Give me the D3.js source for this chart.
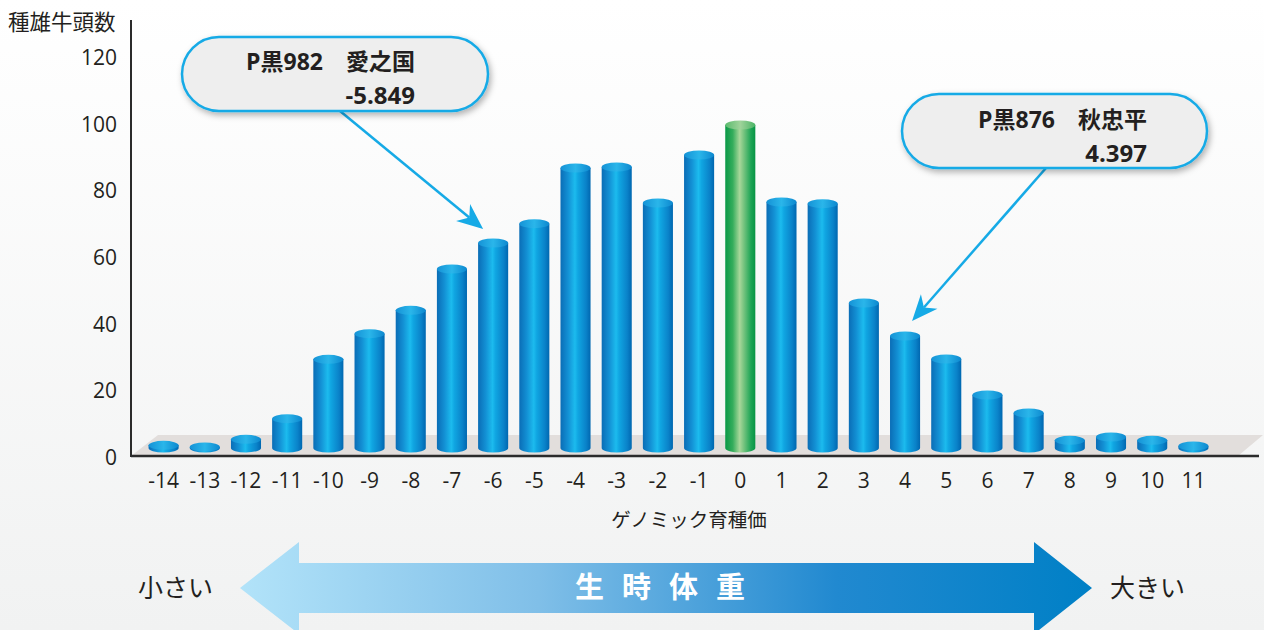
<!DOCTYPE html>
<html>
<head>
<meta charset="utf-8">
<script src="https://cdn.jsdelivr.net/npm/d3@7"></script>
<style>
	html, body { margin: 0; padding: 0; }
	body { width: 1264px; height: 630px; overflow: hidden; }
	text { font-family: "Open Sans", "Noto Sans CJK JP", sans-serif; fill: #231f20; }
</style>
</head>
<body>
<div id="chart"></div>
<script>
// genomic breeding value bins and bull counts
var bins = [-14, -13, -12, -11, -10, -9, -8, -7, -6, -5, -4, -3, -2, -1, 0, 1, 2, 3, 4, 5, 6, 7, 8, 9, 10, 11];
var counts = [3.5, 3, 5.3, 11.5, 29.3, 37, 44, 56.4, 64.2, 70, 86.7, 87, 76.2, 90.6, 99.6, 76.5, 76, 46.2, 36.3, 29.4, 18.6, 13.2, 5, 6, 5, 3.3];
var yTicks = [0, 20, 40, 60, 80, 100, 120];
var highlightBin = 0;

var callouts = [
	{bin: -6, name: "P黒982\u3000愛之国", value: "-5.849"},
	{bin: 4, name: "P黒876\u3000秋忠平", value: "4.397"}
];

var width = 1264, height = 630;
var svg = d3.select("#chart").append("svg")
	.attr("width", width)
	.attr("height", height);

var defs = svg.append("defs");

var bg = defs.append("linearGradient").attr("id", "bg").attr("x1", 0).attr("y1", 0).attr("x2", 0).attr("y2", 1);
bg.append("stop").attr("offset", "0%").attr("stop-color", "#ffffff");
bg.append("stop").attr("offset", "100%").attr("stop-color", "#f1f2f2");

function sideGradient(id, stops) {
	var g = defs.append("linearGradient").attr("id", id).attr("x1", 0).attr("y1", 0).attr("x2", 1).attr("y2", 0);
	stops.forEach(s => g.append("stop").attr("offset", s[0]).attr("stop-color", s[1]));
}
sideGradient("blueSide", [["0%", "#0a6db6"], ["25%", "#1390d4"], ["48%", "#1cbbee"], ["58%", "#10a6e2"], ["85%", "#0a82c9"], ["100%", "#0067b0"]]);
sideGradient("blueTop", [["0%", "#1592d6"], ["50%", "#2ab6ea"], ["100%", "#0d88cf"]]);
sideGradient("greenSide", [["0%", "#099846"], ["25%", "#35ad5c"], ["48%", "#a8d79a"], ["60%", "#7cc682"], ["85%", "#1ea556"], ["100%", "#079444"]]);
sideGradient("greenTop", [["0%", "#5bbb6e"], ["50%", "#9fd39a"], ["100%", "#4bb466"]]);
sideGradient("arrowGrad", [["0%", "#b2e3f9"], ["35%", "#80bfe8"], ["70%", "#2189d0"], ["100%", "#0080c6"]]);

var shadow = defs.append("filter").attr("id", "shadow").attr("x", "-10%").attr("y", "-20%").attr("width", "130%").attr("height", "160%");
shadow.append("feDropShadow").attr("dx", 2).attr("dy", 3).attr("stdDeviation", 3)
	.attr("flood-color", "#000").attr("flood-opacity", 0.3);

svg.append("rect").attr("width", width).attr("height", height).attr("fill", "url(#bg)");

// scales
var x = d3.scaleBand()
	.domain(bins)
	.range([143, 1214])
	.paddingInner(0.27)
	.paddingOuter(0.135);

var y = d3.scaleLinear()
	.domain([0, 120])
	.range([457, 57]);

var axisX = 131, baseY = 456;

// floor
svg.append("path")
	.attr("d", `M158,435 L1263,435 L1238,${baseY} L${axisX},${baseY} Z`)
	.attr("fill", "#e2dedc");

// bars as cylinders
var rx = x.bandwidth() / 2, ry = 4.5, barBase = 448;
var bars = svg.append("g").selectAll("g")
	.data(bins.map((b, i) => ({bin: b, count: counts[i]})))
	.enter()
	.append("g");

bars.append("path")
	.attr("fill", d => d.bin === highlightBin ? "url(#greenSide)" : "url(#blueSide)")
	.attr("d", function(d) {
		var l = x(d.bin), r = l + x.bandwidth();
		var top = Math.min(y(d.count), barBase);
		return `M${l},${top} L${l},${barBase} A${rx},${ry} 0 0 0 ${r},${barBase} L${r},${top} Z`;
	});

bars.append("ellipse")
	.attr("cx", d => x(d.bin) + rx)
	.attr("cy", d => Math.min(y(d.count), barBase))
	.attr("rx", rx)
	.attr("ry", ry)
	.attr("fill", d => d.bin === highlightBin ? "url(#greenTop)" : "url(#blueTop)");

// axes
var gy = svg.append("g")
	.attr("transform", `translate(${axisX},0)`)
	.call(d3.axisLeft(y).tickValues(yTicks).tickSize(0).tickPadding(14));
gy.select(".domain").remove();
gy.selectAll("text").style("font-size", "21px").attr("dy", "0.35em");

var gx = svg.append("g")
	.attr("transform", `translate(0,${baseY})`)
	.call(d3.axisBottom(x).tickSize(0).tickPadding(17));
gx.select(".domain").remove();
gx.selectAll("text").style("font-size", "21px");

svg.append("line")
	.attr("x1", axisX).attr("x2", axisX).attr("y1", 20).attr("y2", baseY + 1)
	.attr("stroke", "#2b2b2b").attr("stroke-width", 2);
svg.append("line")
	.attr("x1", axisX).attr("x2", 1259).attr("y1", baseY).attr("y2", baseY)
	.attr("stroke", "#2b2b2b").attr("stroke-width", 2.5);

svg.append("text")
	.attr("x", 8).attr("y", 30)
	.style("font-size", "21.5px")
	.style("font-family", "'Noto Sans CJK JP', sans-serif")
	.text("種雄牛頭数");

svg.append("text")
	.attr("x", 689).attr("y", 527)
	.attr("text-anchor", "middle")
	.style("font-size", "19.5px")
	.style("font-family", "'Noto Sans CJK JP', sans-serif")
	.text("ゲノミック育種価");

// callouts
var calloutBoxes = [
	{x: 182, y: 37, w: 306, h: 74, nameX: 415, nameY: 70, valY: 104, from: [340, 111], tipDx: -10, tipDy: -14},
	{x: 902, y: 94, w: 305, h: 74, nameX: 1147, nameY: 128, valY: 162, from: [1046, 168], tipDx: 7, tipDy: -15}
];

callouts.forEach(function(c, i) {
	var b = calloutBoxes[i];
	var tip = [x(c.bin) + rx + b.tipDx, y(counts[bins.indexOf(c.bin)]) + b.tipDy];
	var ang = Math.atan2(tip[1] - b.from[1], tip[0] - b.from[0]);
	var len = 26, wing = 11, back = 18;
	var ux = Math.cos(ang), uy = Math.sin(ang);
	var px = -uy, py = ux;
	var baseP = [tip[0] - ux * len, tip[1] - uy * len];
	var notch = [tip[0] - ux * back, tip[1] - uy * back];

	svg.append("line")
		.attr("x1", b.from[0]).attr("y1", b.from[1])
		.attr("x2", notch[0]).attr("y2", notch[1])
		.attr("stroke", "#16aae6").attr("stroke-width", 2.5);
	svg.append("path")
		.attr("d", `M${tip[0]},${tip[1]} L${baseP[0] + px * wing},${baseP[1] + py * wing} L${notch[0]},${notch[1]} L${baseP[0] - px * wing},${baseP[1] - py * wing} Z`)
		.attr("fill", "#16aae6");

	svg.append("rect")
		.attr("x", b.x).attr("y", b.y).attr("width", b.w).attr("height", b.h)
		.attr("rx", b.h / 2).attr("ry", b.h / 2)
		.attr("fill", "#eeeeee")
		.attr("stroke", "#16aae6")
		.attr("stroke-width", 2.5)
		.attr("filter", "url(#shadow)");

	svg.append("text")
		.attr("x", b.nameX).attr("y", b.nameY)
		.attr("text-anchor", "end")
		.style("font-size", "23px").style("font-weight", "bold")
		.text(c.name);
	svg.append("text")
		.attr("x", b.nameX).attr("y", b.valY)
		.attr("text-anchor", "end")
		.style("font-size", "24px").style("font-weight", "bold")
		.text(c.value);
});

// bottom arrow: body weight
svg.append("path")
	.attr("d", "M240,588 L299,542 L299,563 L1034,563 L1034,542 L1092,588 L1034,634 L1034,613 L299,613 L299,634 Z")
	.attr("fill", "url(#arrowGrad)");

svg.append("text")
	.attr("x", 669).attr("y", 598)
	.attr("text-anchor", "middle")
	.style("font-size", "29px").style("font-weight", "bold")
	.style("font-family", "'Noto Sans CJK JP', sans-serif")
	.style("letter-spacing", "18px")
	.style("fill", "#ffffff")
	.text("生時体重");

svg.append("text")
	.attr("x", 138).attr("y", 597)
	.style("font-size", "25px")
	.style("font-family", "'Noto Sans CJK JP', sans-serif")
	.text("小さい");
svg.append("text")
	.attr("x", 1110).attr("y", 597)
	.style("font-size", "25px")
	.style("font-family", "'Noto Sans CJK JP', sans-serif")
	.text("大きい");
</script>
</body>
</html>
